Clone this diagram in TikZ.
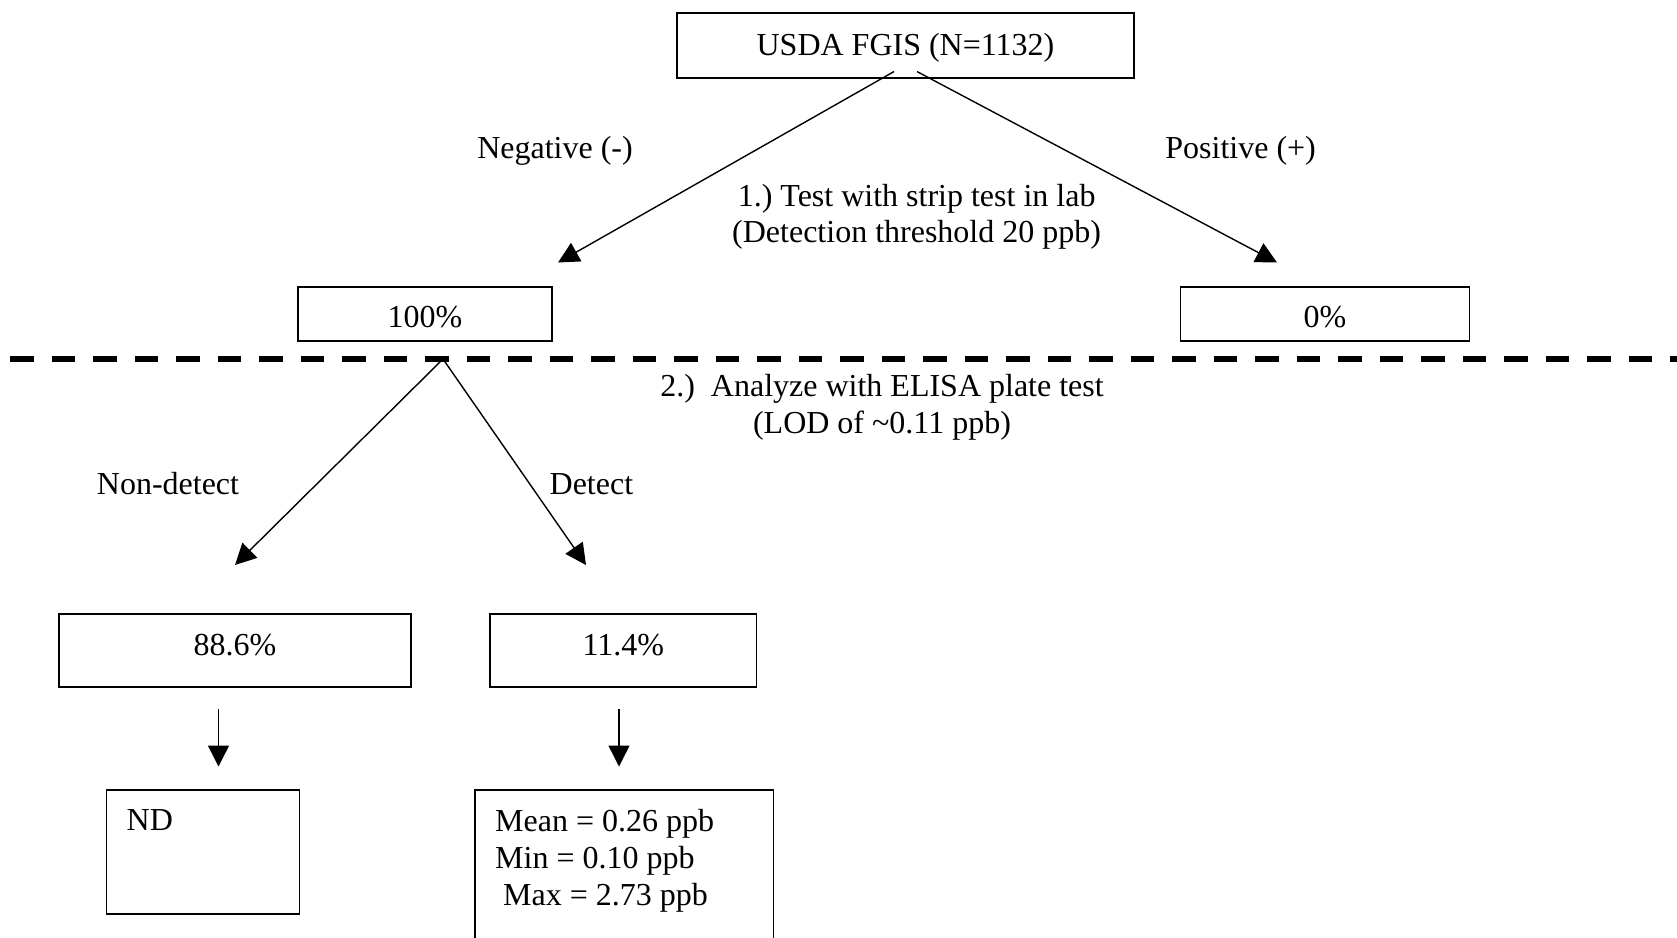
\documentclass[tikz,border=0pt]{standalone}
\usepackage{fontspec}
\setmainfont{Liberation Serif}
\usetikzlibrary{arrows.meta}
\frenchspacing
\tikzset{
	box/.style={draw, line width=1.7pt, inner sep=0pt},
	lbl/.style={anchor=base, inner sep=0pt},
	arr/.style={line width=1.4pt, -{Triangle[length=21pt,width=21pt]}}
}

\begin{document}
\begin{tikzpicture}[x=1pt, y=-1pt, every node/.style={font=\fontsize{32}{37}\selectfont}]
		%%%%% START %%%%%
		\useasboundingbox (0, 0) rectangle (1677, 937);
		
		\node[box, minimum width=457pt, minimum height=65pt, text depth=2.6pt] (fgis) at (905.5, 45.2) {USDA FGIS (N=1132)};
		
		\node[lbl] (negtext) at (555, 158.5) {Negative (-)};
		\node[lbl] (postext) at (1240.6, 158.5) {Positive (+)};
		\node[lbl] (step1a) at (916.6, 206.7) {1.) Test with strip test in lab};
		\node[lbl] (step1b) at (916.6, 242.7) {(Detection threshold 20 ppb)};
		
		\coordinate (negtip) at (558, 262.5);
		\coordinate (postip) at (1277, 262.5);
		\draw[arr] ([xshift=-11.5pt, yshift=7pt]fgis.south) -- (negtip);
		\draw[arr] ([xshift=11.5pt, yshift=7pt]fgis.south) -- (postip);
		
		\node[box, minimum width=254pt, minimum height=54pt, text height=26pt, text depth=0pt] (neg) at (425, 314) {100\%};
		\node[box, minimum width=289pt, minimum height=54pt, text height=26pt, text depth=0pt] (pos) at (1325, 314) {0\%};
		
		\draw[line width=6pt, dash pattern=on 23.5pt off 18pt] (10, 359) -- (1677, 359);
		
		\node[lbl] (step2a) at (882, 396.7) {2.)\ \ Analyze with ELISA plate test};
		\node[lbl] (step2b) at (882, 433) {(LOD of \textasciitilde0.11 ppb)};
		
		\coordinate (split) at (443, 359);
		\coordinate (ndtip) at (235, 565);
		\coordinate (dettip) at (586, 565);
		\draw[arr] (split) -- (ndtip);
		\draw[arr] (split) -- (dettip);
		\node[lbl] (nondet) at (168, 494) {Non-detect};
		\node[lbl] (det) at (591.4, 494) {Detect};
		
		\node[box, minimum width=352pt, minimum height=73pt, text depth=11.6pt] (nonpct) at (235, 650.5) {88.6\%};
		\node[box, minimum width=266.6pt, minimum height=73pt, text depth=11.6pt] (detpct) at (623.3, 650.5) {11.4\%};
		
		\coordinate (ndtop) at (218.5, 709);
		\coordinate (ndbot) at (218.5, 766.5);
		\coordinate (stattop) at (619, 709);
		\coordinate (statbot) at (619, 766.5);
		\draw[arr] (ndtop) -- (ndbot);
		\draw[arr] (stattop) -- (statbot);
		
		\node[box, minimum width=193pt, minimum height=124pt] (nd) at (203, 852) {};
		\node[lbl, anchor=base west] (ndtext) at (126.5, 830.7) {ND};
		
		\node[box, minimum width=298.5pt, minimum height=170pt] (stats) at (624.2, 875) {};
		\node[anchor=north west, align=left, inner sep=0pt] (statstext) at (495, 808.8) {Mean = 0.26 ppb\\Min = 0.10 ppb\\\ Max = 2.73 ppb};
		%%%%% END %%%%%
	\end{tikzpicture}
\end{document}
